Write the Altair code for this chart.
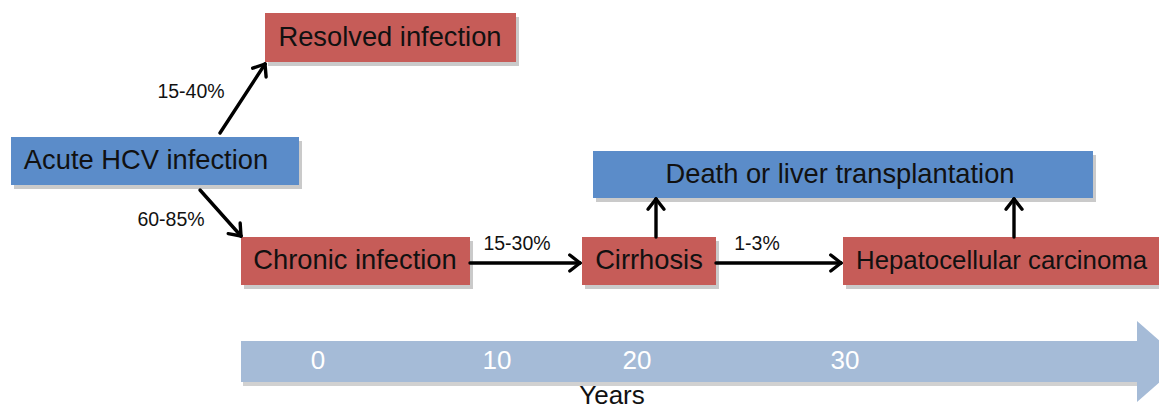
import math
import altair as alt
import pandas as pd

# ---- content ----
box_labels = ["Resolved infection", "Acute HCV infection", "Chronic infection",
              "Cirrhosis", "Hepatocellular carcinoma", "Death or liver transplantation"]
box_kind = ["red", "blue", "red", "red", "red", "blue"]

pct_labels = ["15-40%", "60-85%", "15-30%", "1-3%"]
year_labels = ["0", "10", "20", "30"]
axis_title = "Years"

# ---- layout (diagram coordinates, pixels of the 1167x419 picture) ----
box_x0 = [265, 11, 241, 582, 843, 593]
box_x1 = [516, 299, 470, 716, 1180, 1093]
box_y0 = [13, 137, 237, 237, 237, 151]
box_y1 = [62, 185, 285, 285, 285, 198]
text_x = [390, 146, 355, 649, 856, 840]
text_align = ["center", "center", "center", "center", "left", "center"]

arrow_x0 = [220, 200, 470, 716, 656, 1014]
arrow_y0 = [133, 190, 263, 263, 237, 237]
arrow_x1 = [265, 241, 580, 841, 656, 1014]
arrow_y1 = [64, 236, 263, 263, 199, 199]

pct_x = [191, 171, 517, 757]
pct_y = [92, 220, 244, 244]

year_x = [318, 497, 637, 845]
year_y = 361
title_x, title_y = 612, 404

RED = "#c65c58"
BLUE = "#5b8cc9"
TL = "#a5bbd7"

W, H = 1151, 403
xs = alt.Scale(domain=[8, 8 + W], nice=False, zero=False)
ys = alt.Scale(domain=[8, 8 + H], nice=False, zero=False, reverse=True)

def X(f="x", **k):
    return alt.X(f"{f}:Q", scale=xs, axis=None, **k)

def Y(f="y", **k):
    return alt.Y(f"{f}:Q", scale=ys, axis=None, **k)

boxes = pd.DataFrame({"label": box_labels, "kind": box_kind,
                      "x0": box_x0, "x1": box_x1, "y0": box_y0, "y1": box_y1,
                      "tx": text_x, "align": text_align})
boxes["ty"] = (boxes["y0"] + boxes["y1"]) / 2
shadow = boxes.copy()
for c in ["x0", "x1"]:
    shadow[c] = shadow[c] + 3
for c in ["y0", "y1"]:
    shadow[c] = shadow[c] + 4

color = alt.Color("kind:N", scale=alt.Scale(domain=["red", "blue"], range=[RED, BLUE]), legend=None)

shadow_layer = alt.Chart(shadow).mark_rect(color="#8a8a8a", opacity=0.45).encode(
    x=X("x0"), x2="x1", y=Y("y0"), y2="y1")
box_layer = alt.Chart(boxes).mark_rect().encode(
    x=X("x0"), x2="x1", y=Y("y0"), y2="y1", color=color)

txt_c = alt.Chart(boxes[boxes["align"] == "center"]).mark_text(
    font="Liberation Sans", fontSize=27.3, color="#111", align="center", baseline="middle").encode(
    x=X("tx"), y=Y("ty"), text="label:N")
txt_l = alt.Chart(boxes[boxes["align"] == "left"]).mark_text(
    font="Liberation Sans", fontSize=25.8, color="#111", align="left", baseline="middle").encode(
    x=X("tx"), y=Y("ty"), text="label:N")

# arrows: shafts + chevron heads
segs = []
for a, b, c, d in zip(arrow_x0, arrow_y0, arrow_x1, arrow_y1):
    segs.append({"x": a, "y": b, "x2": c, "y2": d})
    ang = math.atan2(d - b, c - a)
    for s in (1, -1):
        t = ang + math.pi + s * math.radians(38)
        segs.append({"x": c, "y": d, "x2": c + 13 * math.cos(t), "y2": d + 13 * math.sin(t)})
arrows = alt.Chart(pd.DataFrame(segs)).mark_rule(color="#000", strokeWidth=3.4, strokeCap="round").encode(
    x=X("x"), x2="x2", y=Y("y"), y2="y2")

pct = alt.Chart(pd.DataFrame({"t": pct_labels, "x": pct_x, "y": pct_y})).mark_text(
    font="Liberation Sans", fontSize=19.5, color="#111", align="center", baseline="middle").encode(
    x=X(), y=Y(), text="t:N")

# timeline arrow
tl_body = alt.Chart(pd.DataFrame({"x": [241], "x2": [1138], "y": [341], "y2": [382]})).mark_rect(color=TL).encode(
    x=X("x"), x2="x2", y=Y("y"), y2="y2")
tl_shadow = alt.Chart(pd.DataFrame({"x": [243], "x2": [1138], "y": [382], "y2": [386]})).mark_rect(color="#999", opacity=0.45).encode(
    x=X("x"), x2="x2", y=Y("y"), y2="y2")
tl_head = alt.Chart(pd.DataFrame({"x": [1137, 1183], "y": [321, 361.5], "y2": [402, 361.5]})).mark_area(color=TL).encode(
    x=X("x"), y=Y("y"), y2="y2")

years = alt.Chart(pd.DataFrame({"t": year_labels, "x": year_x, "y": [year_y] * 4})).mark_text(
    font="Liberation Sans", fontSize=26, color="white", align="center", baseline="middle").encode(
    x=X(), y=Y(), text="t:N")
ytitle = alt.Chart(pd.DataFrame({"t": [axis_title], "x": [title_x], "y": [title_y]})).mark_text(
    font="Liberation Sans", fontSize=26, color="#111", align="center", baseline="alphabetic").encode(
    x=X(), y=Y(), text="t:N")

chart = alt.layer(
    tl_shadow, tl_body, tl_head, years, ytitle,
    shadow_layer, box_layer, txt_c, txt_l, arrows, pct
).properties(width=W, height=H, autosize=alt.AutoSizeParams(type="none"), padding=0
).configure_view(stroke=None)

chart.save("out.html", embed_options={"renderer": "svg", "actions": False})
